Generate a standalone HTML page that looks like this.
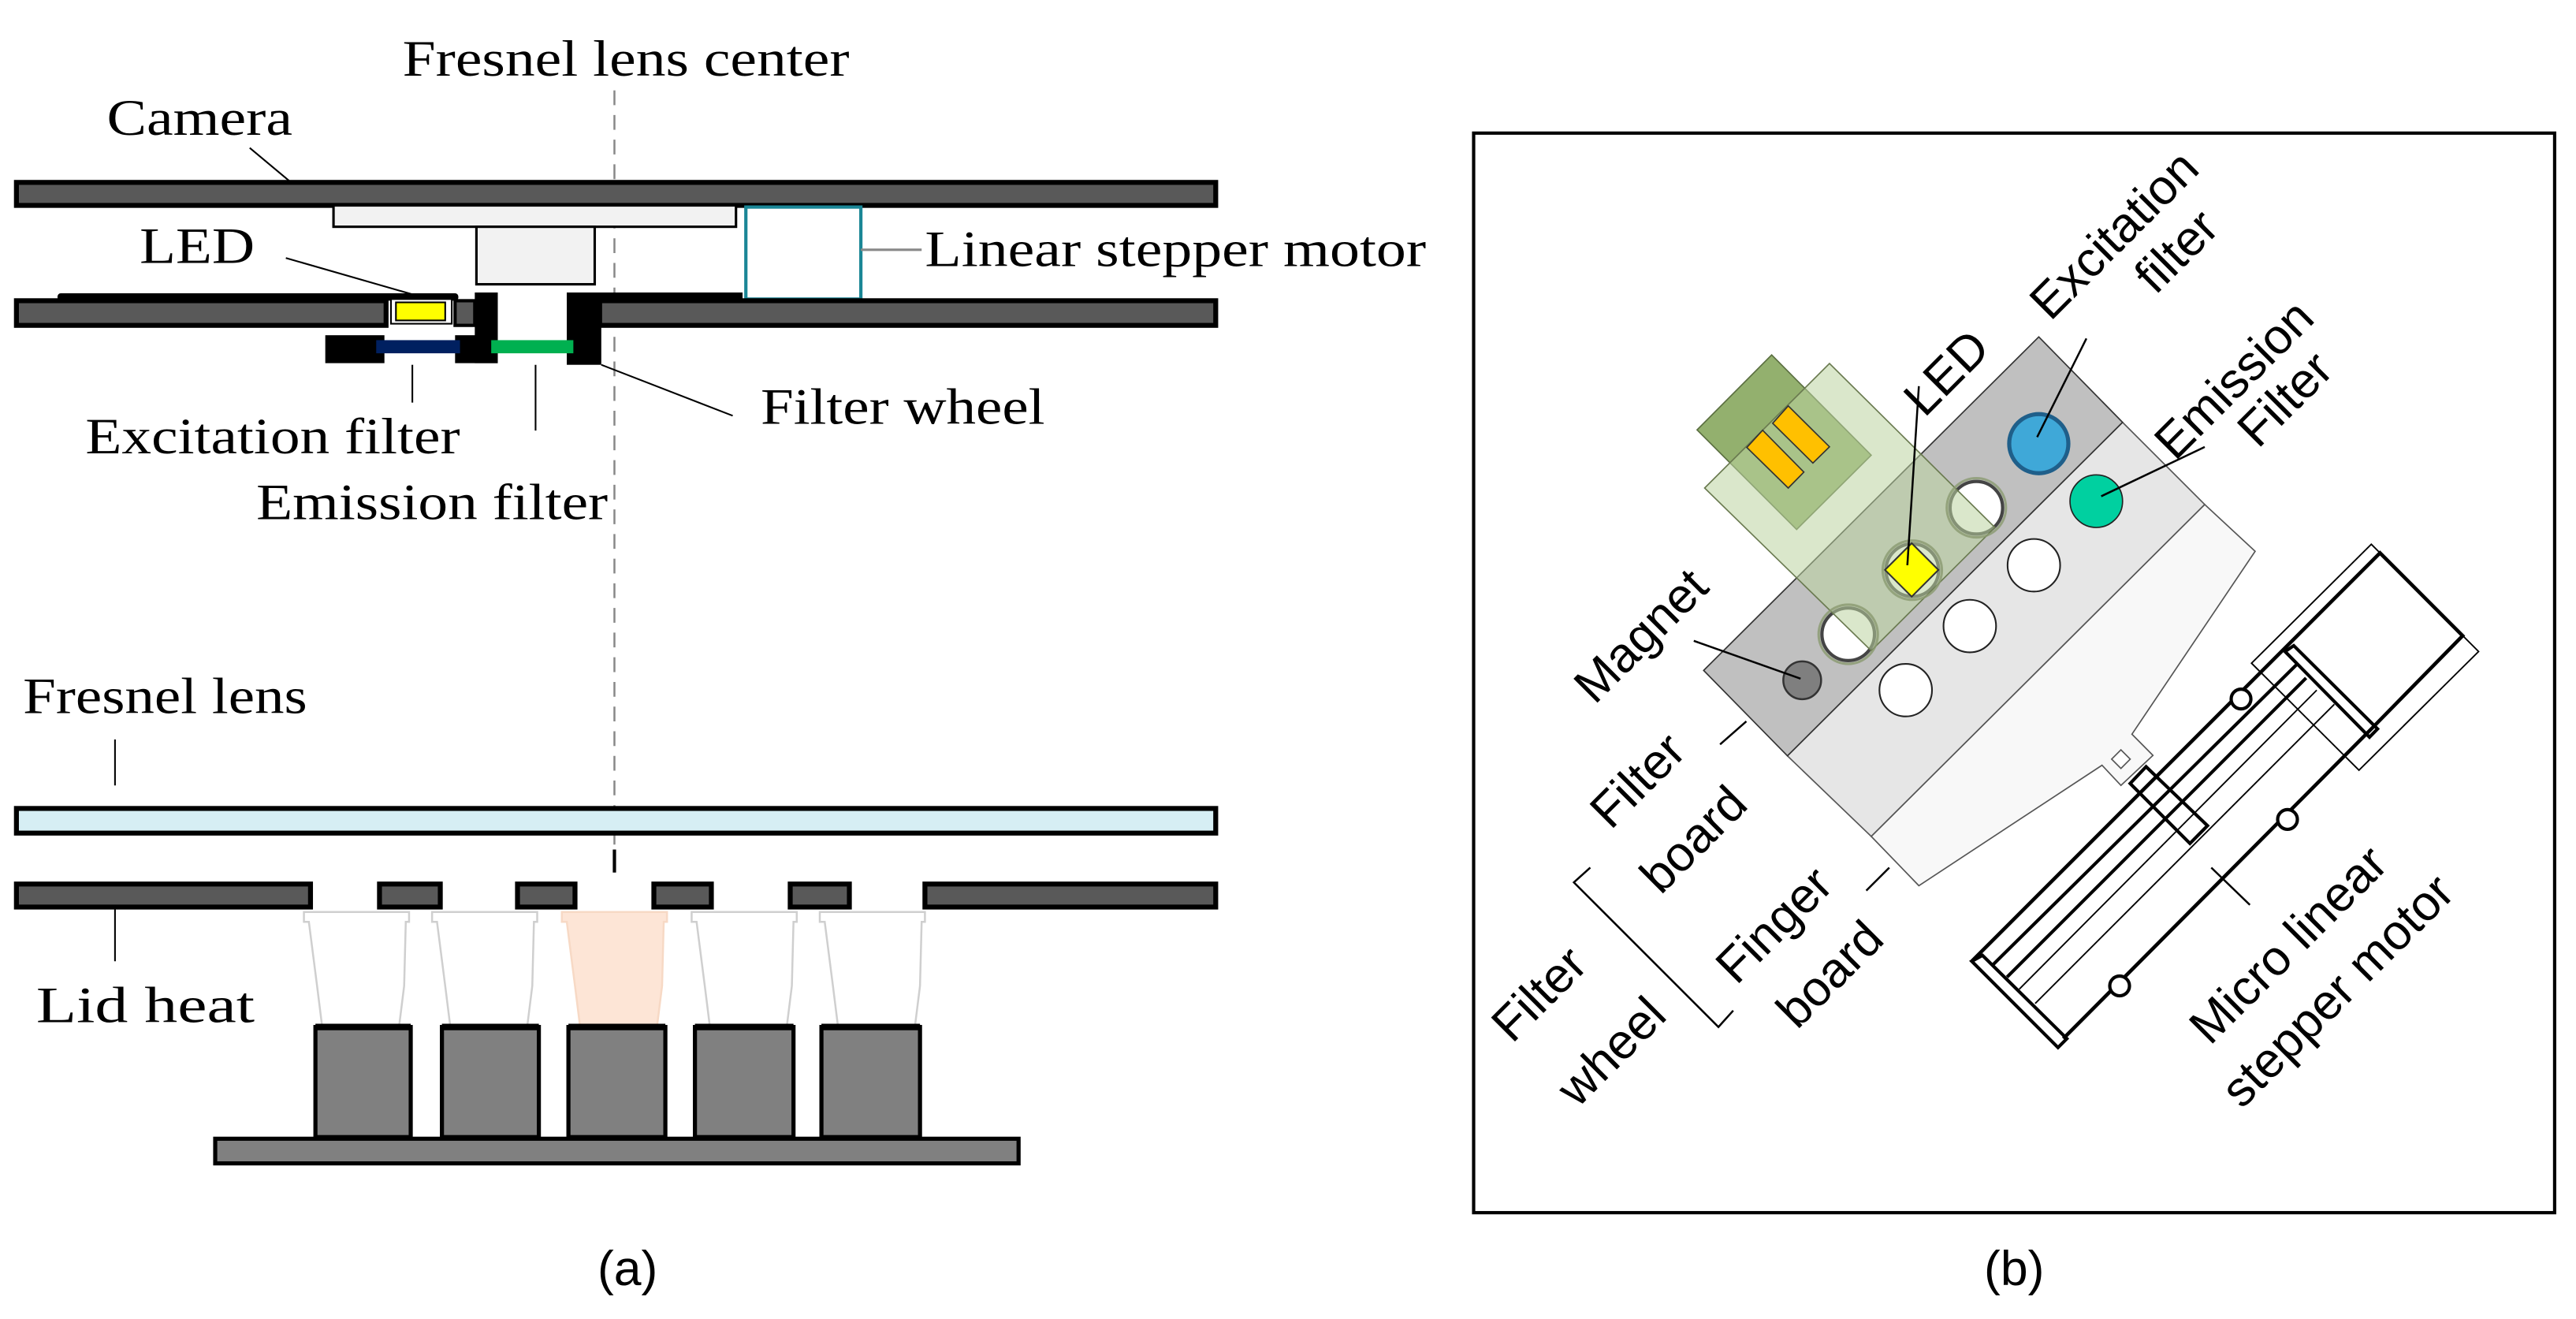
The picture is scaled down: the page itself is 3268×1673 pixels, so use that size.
<!DOCTYPE html>
<html><head><meta charset="utf-8"><style>
html,body{margin:0;padding:0;background:#fff;}
svg{display:block;}
.s{font-family:"Liberation Serif",serif;fill:#000;}
.a{font-family:"Liberation Sans",sans-serif;fill:#000;}
</style></head><body>
<svg width="3268" height="1673" viewBox="0 0 1568 802.7" xmlns="http://www.w3.org/2000/svg">
<rect width="1568" height="803" fill="#fff"/>
<!-- LEFT PANEL -->
<text class="s" x="245" y="46" font-size="31" textLength="272" lengthAdjust="spacingAndGlyphs">Fresnel lens center</text>
<text class="s" x="65" y="82" font-size="31" textLength="113" lengthAdjust="spacingAndGlyphs">Camera</text>
<line x1="374" y1="55" x2="374" y2="532" stroke="#888" stroke-width="1.2" stroke-dasharray="9,6"/>
<line x1="152" y1="90" x2="176" y2="110" stroke="#000" stroke-width="1"/>
<rect x="10" y="111" width="730" height="14" fill="#595959" stroke="#000" stroke-width="3"/>
<rect x="203" y="125" width="245" height="13" fill="#f2f2f2" stroke="#000" stroke-width="1.5"/>
<rect x="290" y="138" width="72" height="35" fill="#f2f2f2" stroke="#000" stroke-width="1.5"/>
<rect x="454" y="126" width="70" height="56" fill="#fff" stroke="#1a8696" stroke-width="2"/>
<line x1="524" y1="152" x2="561" y2="152" stroke="#888" stroke-width="1.5"/>
<text class="s" x="563" y="162" font-size="31" textLength="305" lengthAdjust="spacingAndGlyphs">Linear stepper motor</text>
<text class="s" x="85" y="160" font-size="31" textLength="70" lengthAdjust="spacingAndGlyphs">LED</text>
<line x1="174" y1="157" x2="254" y2="180" stroke="#000" stroke-width="1"/>
<rect x="10" y="183" width="225" height="15" fill="#595959" stroke="#000" stroke-width="3"/>
<rect x="277" y="183" width="12" height="15" fill="#595959" stroke="#000" stroke-width="2"/>
<rect x="365" y="183" width="375" height="15" fill="#595959" stroke="#000" stroke-width="3"/>
<rect x="35" y="178.5" width="244" height="4.5" fill="#000" rx="2"/>
<rect x="345" y="178" width="107" height="5" fill="#000"/>
<rect x="238" y="182" width="37" height="15" fill="#fff" stroke="#000" stroke-width="1"/>
<rect x="241" y="184" width="30" height="11" fill="#ffff00" stroke="#000" stroke-width="1"/>
<rect x="289" y="178" width="14" height="43" fill="#000"/>
<rect x="345" y="178" width="21" height="44" fill="#000"/>
<rect x="198" y="204" width="36" height="17" fill="#000"/>
<rect x="277" y="204" width="26" height="17" fill="#000"/>
<rect x="229" y="207" width="51" height="8" fill="#002060"/>
<rect x="299" y="207" width="50" height="8" fill="#00b050"/>
<line x1="251" y1="222" x2="251" y2="245" stroke="#000" stroke-width="1"/>
<line x1="326" y1="222" x2="326" y2="262" stroke="#000" stroke-width="1"/>
<line x1="366" y1="222" x2="446" y2="253" stroke="#000" stroke-width="1"/>
<text class="s" x="52" y="276" font-size="31" textLength="228" lengthAdjust="spacingAndGlyphs">Excitation filter</text>
<text class="s" x="156" y="316" font-size="31" textLength="214" lengthAdjust="spacingAndGlyphs">Emission filter</text>
<text class="s" x="463" y="258" font-size="31" textLength="173" lengthAdjust="spacingAndGlyphs">Filter wheel</text>
<text class="s" x="14" y="434" font-size="31" textLength="173" lengthAdjust="spacingAndGlyphs">Fresnel lens</text>
<line x1="70" y1="450" x2="70" y2="478" stroke="#000" stroke-width="1"/>
<rect x="10" y="492" width="730" height="15" fill="#d6eef4" stroke="#000" stroke-width="3"/>
<line x1="374" y1="517" x2="374" y2="531" stroke="#000" stroke-width="2"/>
<g fill="#595959" stroke="#000" stroke-width="3">
<rect x="10" y="538" width="179" height="14"/>
<rect x="231" y="538" width="37" height="14"/>
<rect x="315" y="538" width="35" height="14"/>
<rect x="398" y="538" width="35" height="14"/>
<rect x="481" y="538" width="36" height="14"/>
<rect x="563" y="538" width="177" height="14"/>
</g>
<line x1="70" y1="553" x2="70" y2="585" stroke="#000" stroke-width="1"/>
<text class="s" x="22" y="622" font-size="31" textLength="133" lengthAdjust="spacingAndGlyphs">Lid heat</text>
<g stroke="#cfcfcf" stroke-width="1.2">
<path d="M185 555 H249 V561 H247 L246 600 L243 624 H196 L193 600 L188 561 H185Z" fill="#fff"/>
<path d="M263 555 H327 V561 H325 L324 600 L321 624 H274 L271 600 L266 561 H263Z" fill="#fff"/>
<path d="M342 555 H406 V561 H404 L403 600 L400 624 H353 L350 600 L345 561 H342Z" fill="#fde5d6" stroke="#f7d9c5"/>
<path d="M421 555 H485 V561 H483 L482 600 L479 624 H432 L429 600 L424 561 H421Z" fill="#fff"/>
<path d="M499 555 H563 V561 H561 L560 600 L557 624 H510 L507 600 L502 561 H499Z" fill="#fff"/>
</g>
<g fill="#808080" stroke="#000" stroke-width="2.5">
<rect x="192" y="625" width="58" height="67"/>
<rect x="269" y="625" width="59" height="67"/>
<rect x="346" y="625" width="59" height="67"/>
<rect x="423" y="625" width="60" height="67"/>
<rect x="500" y="625" width="60" height="67"/>
<rect x="131" y="693" width="489" height="15"/>
</g>
<g stroke="#000" stroke-width="4"><line x1="192" y1="625" x2="250" y2="625"/><line x1="269" y1="625" x2="328" y2="625"/><line x1="346" y1="625" x2="405" y2="625"/><line x1="423" y1="625" x2="483" y2="625"/><line x1="500" y1="625" x2="560" y2="625"/></g>
<text class="a" x="382" y="782" font-size="30" text-anchor="middle">(a)</text>
<text class="a" x="1226" y="782" font-size="30" text-anchor="middle">(b)</text>

<!-- RIGHT PANEL -->
<rect x="897" y="81" width="658" height="657" fill="#fff" stroke="#000" stroke-width="2"/>
<polygon points="1139,509 1342,307 1372.7,335.5 1297.7,446.8 1310.5,459.7 1291,478 1279.5,465.7 1168,539" fill="#f8f8f8" stroke="#555" stroke-width="0.8"/>
<rect x="1287" y="458" width="8" height="8" transform="rotate(-45 1291 462)" fill="#fff" stroke="#555" stroke-width="0.8"/>
<polygon points="1088,460 1292,257 1342,307 1139,509" fill="#e6e6e6" stroke="#555" stroke-width="0.8"/>
<polygon points="1037,408 1241,205 1292,257 1088,460" fill="#c0c0c0" stroke="#333" stroke-width="0.8"/>
<circle cx="1097" cy="414" r="11.5" fill="#7f7f7f" stroke="#333" stroke-width="1.2"/>
<g fill="#fff" stroke="#444" stroke-width="2">
<circle cx="1125" cy="386" r="16"/><circle cx="1164" cy="347" r="16"/><circle cx="1203" cy="309" r="16"/>
</g>
<g fill="#fff" stroke="#222" stroke-width="1">
<circle cx="1160" cy="420" r="16"/><circle cx="1199" cy="381" r="16"/><circle cx="1238" cy="344" r="16"/>
</g>
<circle cx="1241" cy="270" r="18" fill="#3fa8d8" stroke="#1f5f8a" stroke-width="2.5"/>
<circle cx="1276" cy="305" r="16" fill="#00d0a0" stroke="#222" stroke-width="0.8"/>
<!-- PCB -->
<polygon points="1033,261.6 1078.4,216 1139,277 1093.6,322.2" fill="#93b06e" stroke="#5a6e40" stroke-width="0.8"/>
<polygon points="1037.6,297 1113.6,221.2 1214.3,321 1139,396" fill="#bcd3a0" fill-opacity="0.55" stroke="#6a7a50" stroke-width="0.8"/>
<polygon points="1079,257.6 1088.5,247 1113.6,271.9 1103.5,281.8" fill="#ffc000" stroke="#333" stroke-width="0.8"/>
<polygon points="1063.3,272.3 1072.9,261.8 1098,287.3 1088.5,297" fill="#ffc000" stroke="#333" stroke-width="0.8"/>
<rect x="1152" y="335" width="23" height="23" transform="rotate(-45 1164 346.5)" fill="#ffff00" stroke="#333" stroke-width="1"/>
<g fill="none" stroke="#8a9a70" stroke-width="1.5" opacity="0.8">
<circle cx="1125" cy="386" r="18"/><circle cx="1164" cy="347" r="18"/><circle cx="1203" cy="309" r="18"/>
</g>
<!-- motor -->
<g fill="none" stroke="#000">
<polygon points="1370.5,403.6 1443.4,331.2 1508.7,396.5 1435.9,468.7" stroke-width="0.9"/>
<polyline points="1200.2,585 1448.7,336.5 1499,386.9 1443.4,443.6 1255.9,632.1" stroke-width="2.2"/>
<polygon points="1200.2,585 1206.7,581.4 1258.1,632.1 1252.7,637.5" stroke-width="2"/>
<polygon points="1390.9,396.5 1396.2,392.9 1447.2,443.6 1442.3,448.6" stroke-width="2"/>
<line x1="1213" y1="587.2" x2="1398.4" y2="404" stroke-width="2"/>
<line x1="1221.7" y1="594.6" x2="1403.7" y2="412.6" stroke-width="2"/>
<line x1="1229.1" y1="602" x2="1410.2" y2="420" stroke-width="0.9"/>
<line x1="1238.8" y1="610.7" x2="1420.9" y2="428.6" stroke-width="0.9"/>
<polygon points="1296.6,476.8 1306.3,466.6 1343.7,502.5 1333,513.3" stroke-width="2"/>
<circle cx="1364.1" cy="425.4" r="6" fill="#fff" stroke-width="2"/>
<circle cx="1392.4" cy="498.7" r="6" fill="#fff" stroke-width="2"/>
<circle cx="1290.2" cy="600" r="6" fill="#fff" stroke-width="2"/>
</g>
<g stroke="#000" stroke-width="1.2" fill="none">
<line x1="1168" y1="235" x2="1161" y2="344"/>
<line x1="1270" y1="206" x2="1240" y2="266"/>
<line x1="1342" y1="272" x2="1279" y2="302"/>
<line x1="1031" y1="390" x2="1096" y2="413"/>
<line x1="1047" y1="453" x2="1063" y2="439"/>
<line x1="1136" y1="542" x2="1150" y2="528"/>
<polyline points="968,528 958,537 1046,625 1055,615"/>
<line x1="1346" y1="528" x2="1369.5" y2="550.7"/>
</g>
<g class="a" font-size="30" text-anchor="middle">
<text transform="translate(1294,150) rotate(-45)">Excitation</text>
<text transform="translate(1332,160) rotate(-45)">filter</text>
<text transform="translate(1367,238) rotate(-45)">Emission</text>
<text transform="translate(1398,250) rotate(-45)">Filter</text>
<text transform="translate(1192,234) rotate(-45)">LED</text>
<text transform="translate(1006,394) rotate(-45)">Magnet</text>
<text transform="translate(1004,482) rotate(-45)">Filter</text>
<text transform="translate(1038,518) rotate(-45)">board</text>
<text transform="translate(1087,570) rotate(-45)">Finger</text>
<text transform="translate(1121,600) rotate(-45)">board</text>
<text transform="translate(944,612) rotate(-45)">Filter</text>
<text transform="translate(988,647) rotate(-45)">wheel</text>
<text transform="translate(1400,582) rotate(-45)">Micro linear</text>
<text transform="translate(1430,610) rotate(-45)">stepper motor</text>
</g>
</svg>
</body></html>
